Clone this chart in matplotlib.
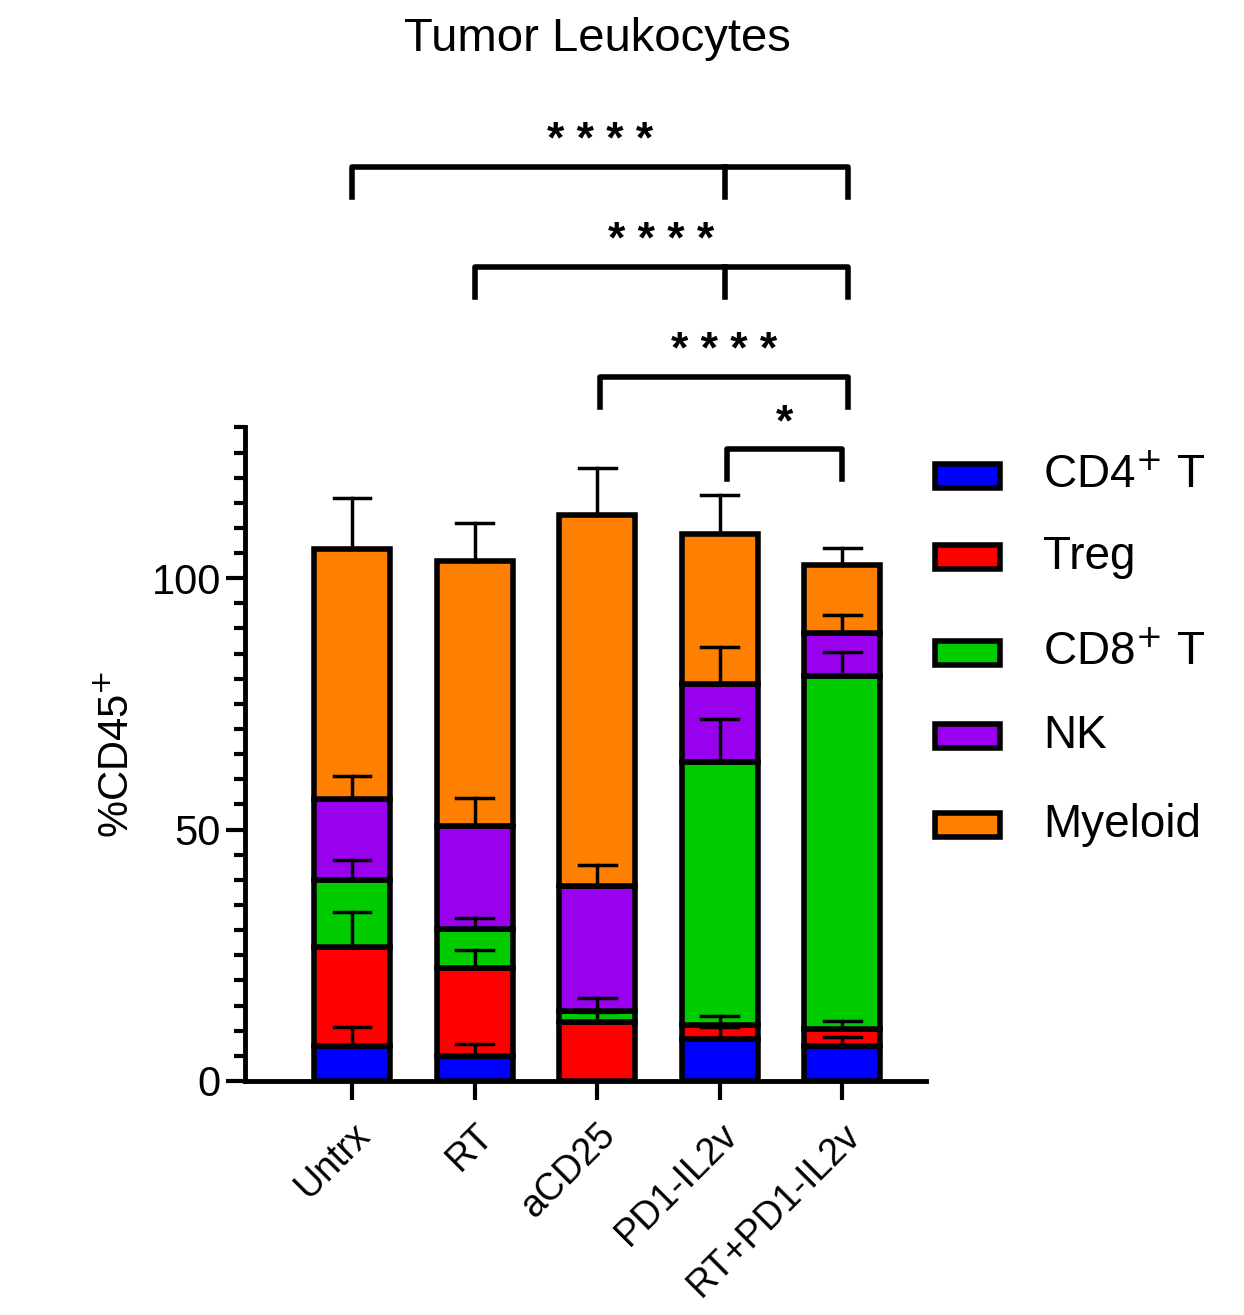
import matplotlib
matplotlib.use("Agg")
import matplotlib.pyplot as plt
from matplotlib.patches import Rectangle
import numpy as np

plt.rcParams["font.family"] = "Liberation Sans"

groups = ["Untrx", "RT", "aCD25", "PD1-IL2v", "RT+PD1-IL2v"]
subsets = ["CD4$^{+}$ T", "Treg", "CD8$^{+}$ T", "NK", "Myeloid"]
colors = ["#0000ff", "#ff0000", "#00cc00", "#9900ee", "#ff8000"]
# cumulative tops of each segment
cum_tops = {
    "Untrx":       [7.0, 26.7, 40.0, 56.0, 105.8],
    "RT":          [5.0, 22.5, 30.3, 50.7, 103.4],
    "aCD25":       [0.0, 11.8, 14.0, 38.7, 112.6],
    "PD1-IL2v":    [8.4, 11.2, 63.5, 79.0, 108.8],
    "RT+PD1-IL2v": [7.0, 10.4, 80.6, 89.0, 102.6],
}
err_tops = {
    "Untrx":       [10.8, 33.7, 44.0, 60.7, 116.0],
    "RT":          [7.4, 26.0, 32.5, 56.3, 111.0],
    "aCD25":       [None, 13.8, 16.4, 43.0, 122.0],
    "PD1-IL2v":    [10.8, 13.0, 72.0, 86.4, 116.6],
    "RT+PD1-IL2v": [8.8, 12.0, 85.4, 92.6, 106.0],
}
# brackets: (x_left, x_mid, x_right, y, label)
brackets = [(0, 3.04, 4.05, 181.8, "* * * *"),
            (1, 3.04, 4.05, 161.9, "* * * *"),
            (2.02, None, 4.05, 140.0, "* * * *"),
            (3.06, None, 4.0, 125.7, "*")]

fig = plt.figure(figsize=(12.44, 13.15), dpi=100)
ax = fig.add_axes([0.197, 0.178, 0.547, 0.497])
w = 0.62
for i, g in enumerate(groups):
    prev = 0
    for j in range(5):
        top = cum_tops[g][j]
        h = top - prev
        if h > 0:
            ax.bar(i, h, bottom=prev, width=w, color=colors[j], edgecolor="black", linewidth=4, zorder=2)
        e = err_tops[g][j]
        if e is not None and e > top:
            ax.plot([i, i], [top, e], color="black", lw=2.5, zorder=3)
            ax.plot([i - 0.15, i + 0.15], [e, e], color="black", lw=2.5, zorder=3)
        prev = top

ax.set_xlim(-0.873, 4.68)
ax.set_ylim(0, 130)
ax.set_yticks([0, 50, 100])
ax.set_yticks(np.arange(0, 131, 5), minor=True)
ax.tick_params(axis="y", which="major", length=14, width=3, labelsize=30)
ax.tick_params(axis="y", which="minor", length=8, width=3)
ax.set_xticks(range(5))
ax.set_xticklabels(groups, rotation=45, ha="right", rotation_mode="anchor", fontsize=27)
ax.tick_params(axis="x", length=14, width=3, pad=12)
for s in ["top", "right"]:
    ax.spines[s].set_visible(False)
for s in ["left", "bottom"]:
    ax.spines[s].set_linewidth(3.5)
ax.set_ylabel("%CD45$^{+}$", fontsize=30, labelpad=10)

for xl, xm, xr, y, lab in brackets:
    d = 6
    ax.plot([xl, xl, xr, xr], [y - d, y, y, y - d], color="black", lw=4, clip_on=False)
    if xm is not None:
        ax.plot([xm, xm], [y, y - d], color="black", lw=4, clip_on=False)
    ax.text((xl + xr) / 2, y + 1, lab, ha="center", va="bottom", fontsize=32, fontweight="bold", clip_on=False)

fig.text(0.48, 0.97, "Tumor Leukocytes", ha="center", va="center", fontsize=34)

leg_y = [476, 557, 653, 736, 825]
for j in range(5):
    yf = 1 - leg_y[j] / 1315
    fig.patches.append(Rectangle((935 / 1244, yf - 12 / 1315), 65 / 1244, 24 / 1315,
                                 facecolor=colors[j], edgecolor="black", linewidth=4,
                                 transform=fig.transFigure))
    fig.text(1043 / 1244, yf, subsets[j], ha="left", va="center", fontsize=33)

fig.savefig("out.png", dpi=100)
